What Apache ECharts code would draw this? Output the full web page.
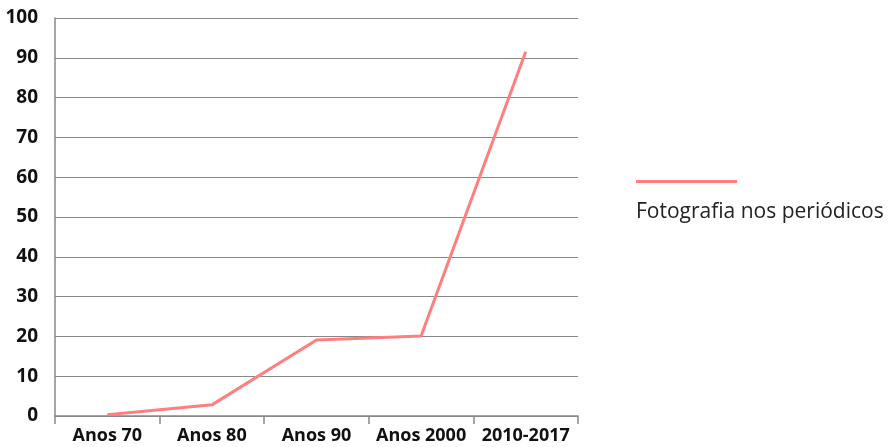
<!DOCTYPE html>
<html>
	<head>
		<meta charset="utf-8">
		<title>Fotografia nos periódicos</title>
		<script src="https://cdn.jsdelivr.net/npm/echarts@6/dist/echarts.min.js"></script>
		<style>
			html, body { margin: 0; padding: 0; background: #fff; }
			#chart { width: 891px; height: 447px; }
		</style>
	</head>
	<body>
		<div id="chart"></div>
		<script>
			// dados
			var categorias = ['Anos 70', 'Anos 80', 'Anos 90', 'Anos 2000', '2010-2017'];
			var valores = [0.3, 2.8, 19.1, 20.1, 91.5];
			var nomeSerie = 'Fotografia nos periódicos';

			var chart = echarts.init(document.getElementById('chart'));
			var fonte = '"Open Sans", "Noto Sans", sans-serif';

			var option = {
				animation: false,
				grid: { left: 55, right: 313, top: 18, bottom: 31 },
				legend: {
					data: [nomeSerie],
					left: 636,
					top: 180,
					padding: 0,
					icon: 'rect',
					itemWidth: 101,
					itemHeight: 3,
					formatter: function () { return ''; },
					textStyle: { fontSize: 1 }
				},
				graphic: [{
					type: 'text',
					left: 636,
					top: 202,
					style: {
						text: nomeSerie,
						fill: '#222',
						font: '21px ' + fonte
					}
				}],
				xAxis: {
					type: 'category',
					data: categorias,
					boundaryGap: true,
					axisLine: { lineStyle: { color: '#888', width: 1.5 } },
					axisTick: { show: true, length: 8, lineStyle: { color: '#888', width: 1.5 } },
					axisLabel: { color: '#111', fontWeight: 'bold', fontSize: 18, fontFamily: fonte, margin: 11, interval: 0 }
				},
				yAxis: {
					type: 'value',
					min: 0,
					max: 100,
					interval: 10,
					axisLine: { show: true, lineStyle: { color: '#888', width: 1.5 } },
					axisTick: { show: false },
					splitLine: { lineStyle: { color: '#888', width: 1.2 } },
					axisLabel: { color: '#111', fontWeight: 'bold', fontSize: 19, fontFamily: fonte, margin: 17 }
				},
				series: [{
					name: nomeSerie,
					type: 'line',
					data: valores,
					symbol: 'none',
					lineStyle: { color: '#FF7F7F', width: 3 },
					itemStyle: { color: '#FF7F7F' }
				}]
			};
			chart.setOption(option);
		</script>
	</body>
</html>
